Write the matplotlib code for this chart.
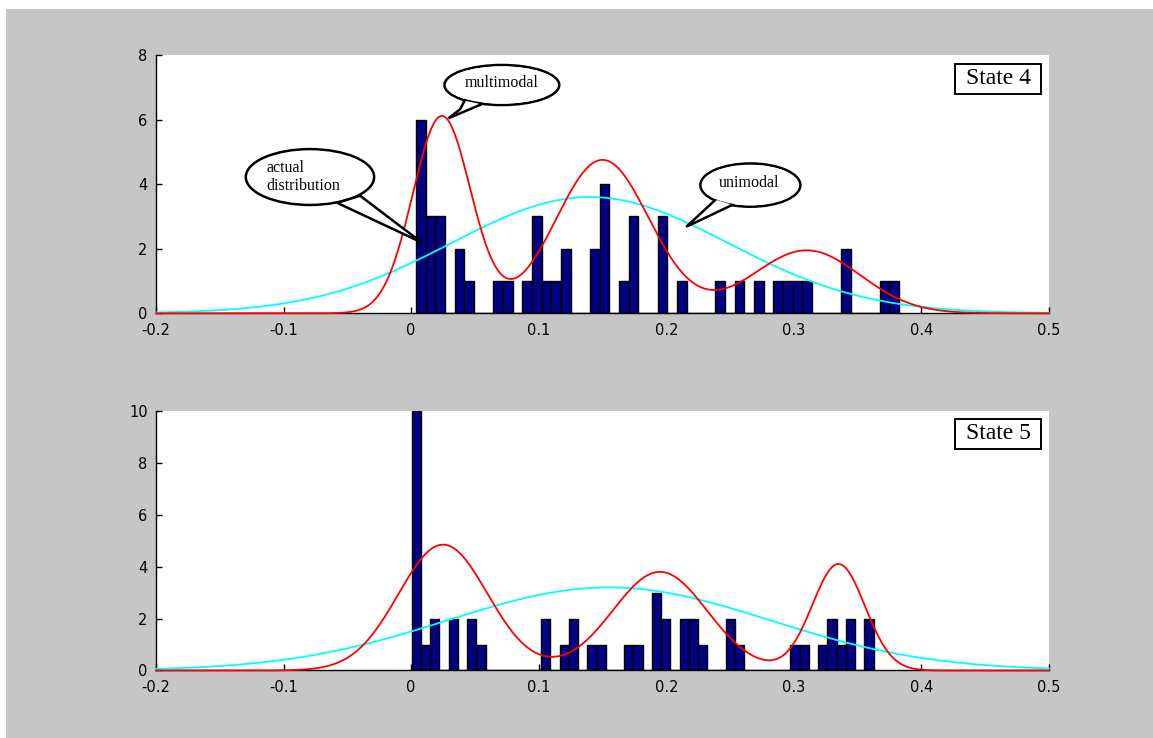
import numpy as np
import matplotlib
matplotlib.use("Agg")
import matplotlib.pyplot as plt
from matplotlib.patches import Ellipse, Polygon, Rectangle

# histogram counts, 50 equal bins between the data min and max
counts4 = [6, 3, 3, 0, 2, 1, 0, 0, 1, 1, 0, 1, 3, 1, 1, 2, 0, 0, 2, 4,
           0, 1, 3, 0, 0, 3, 0, 1, 0, 0, 0, 1, 0, 1, 0, 1, 0, 1, 1, 1,
           1, 0, 0, 0, 2, 0, 0, 0, 1, 1]
range4 = [0.0039, 0.3824]
counts5 = [10, 1, 2, 0, 2, 0, 2, 1, 0, 0, 0, 0, 0, 0, 2, 0, 1, 2, 0, 1,
           1, 0, 0, 1, 1, 0, 3, 2, 0, 2, 2, 1, 0, 0, 2, 1, 0, 0, 0, 0,
           0, 1, 1, 0, 1, 2, 1, 2, 0, 2]
range5 = [0.0005, 0.3625]

# fitted densities (scaled to the histogram)
multi4_mu = [0.024, 0.150, 0.310]
multi4_sd = [0.0227, 0.0368, 0.042]
multi4_amp = [6.1, 4.75, 1.95]
uni4 = [0.140, 0.108, 3.6]   # mean, sd, peak

multi5_mu = [0.025, 0.195, 0.335]
multi5_sd = [0.035, 0.037, 0.0207]
multi5_amp = [4.85, 3.8, 4.1]
uni5 = [0.155, 0.126, 3.2]

xticks = [-0.2, -0.1, 0, 0.1, 0.2, 0.3, 0.4, 0.5]
xtick_labels = ["-0.2", "-0.1", "0", "0.1", "0.2", "0.3", "0.4", "0.5"]


def mixture(x, mu, sd, amp):
    y = np.zeros_like(x)
    for m, s, a in zip(mu, sd, amp):
        y += a * np.exp(-(x - m) ** 2 / (2 * s ** 2))
    return y


def bubble(ax, cx, cy, w, h, tail, text, tx, ty, ha="center"):
    ax.add_patch(Ellipse((cx, cy), w, h, facecolor="white", edgecolor="black",
                         linewidth=1.8, zorder=10))
    ax.add_patch(Polygon(tail, closed=True, facecolor="white", edgecolor="black",
                         linewidth=1.8, joinstyle="miter", zorder=11))
    ax.add_patch(Ellipse((cx, cy), w * 0.965, h * 0.93, facecolor="white",
                         edgecolor="none", zorder=12))
    ax.text(tx, ty, text, ha=ha, va="center", fontsize=11.5,
            family="Liberation Serif", zorder=13, linespacing=1.15)


def panel(ax, counts, rng, mu, sd, amp, uni, ymax, label, label_y):
    edges = np.linspace(rng[0], rng[1], len(counts) + 1)
    centers = (edges[:-1] + edges[1:]) / 2
    ax.bar(centers, counts, width=edges[1] - edges[0], color="#000080",
           edgecolor="black", linewidth=1.0, zorder=2)
    x = np.linspace(-0.2, 0.5, 800)
    ax.plot(x, uni[2] * np.exp(-(x - uni[0]) ** 2 / (2 * uni[1] ** 2)),
            color="#00ffff", linewidth=1.3, zorder=4, clip_on=False)
    ax.plot(x, mixture(x, mu, sd, amp), color="#ff0000", linewidth=1.3,
            zorder=5, clip_on=False)
    ax.set_xlim(-0.2, 0.5)
    ax.set_ylim(0, ymax)
    ax.set_xticks(xticks)
    ax.set_xticklabels(xtick_labels)
    ax.set_yticks(range(0, ymax + 1, 2))
    ax.spines["top"].set_visible(False)
    ax.spines["right"].set_visible(False)
    for s in ["left", "bottom"]:
        ax.spines[s].set_linewidth(1.0)
    ax.tick_params(direction="in", length=4, width=1, labelsize=10.5,
                   pad=6, colors="black")
    ax.tick_params(axis="x", pad=7)
    # label box in the upper right corner
    bw, bh = 0.097, 0.118
    ax.add_patch(Rectangle((0.943 - bw / 2, label_y - bh / 2), bw, bh,
                           transform=ax.transAxes, facecolor="white",
                           edgecolor="black", linewidth=1.4, zorder=20))
    ax.text(0.943, label_y, label, transform=ax.transAxes, ha="center",
            va="center", fontsize=17, family="Liberation Serif", zorder=21)


fig = plt.figure(figsize=(11.53, 7.38), dpi=100)
fig.patch.set_facecolor("white")
fig.patches.append(Rectangle((6 / 1153, 0), 1, 1 - 9 / 738,
                             transform=fig.transFigure, facecolor="#c6c6c6",
                             edgecolor="none", zorder=-10))

ax1 = fig.add_axes([0.1353, 0.5755, 0.7745, 0.35])
ax2 = fig.add_axes([0.1353, 0.0915, 0.7745, 0.3516])

panel(ax1, counts4, range4, multi4_mu, multi4_sd, multi4_amp, uni4, 8,
      "State 4", 0.908)
panel(ax2, counts5, range5, multi5_mu, multi5_sd, multi5_amp, uni5, 10,
      "State 5", 0.912)

# speech bubbles on the upper panel
bubble(ax1, 0.0711, 7.07, 0.090, 1.24,
       [(0.0424, 6.62), (0.0384, 6.32), (0.0293, 6.04), (0.0567, 6.50)],
       "multimodal", 0.0711, 7.12)
bubble(ax1, -0.0793, 4.22, 0.1006, 1.73,
       [(-0.040, 3.64), (0.0084, 2.19), (-0.058, 3.42)],
       "actual\ndistribution", -0.1137, 4.22, ha="left")
bubble(ax1, 0.2659, 3.97, 0.0784, 1.34,
       [(0.2395, 3.55), (0.2157, 2.68), (0.2530, 3.38)],
       "unimodal", 0.2645, 4.05)

fig.savefig("out.png", dpi=100, facecolor=fig.get_facecolor())
